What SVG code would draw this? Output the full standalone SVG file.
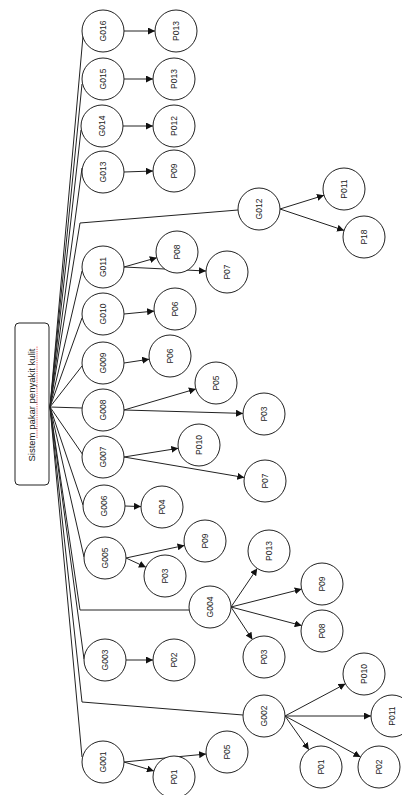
<svg xmlns="http://www.w3.org/2000/svg" width="402" height="795" viewBox="0 0 402 795">
<style>
.n circle{fill:#fff;stroke:#222;stroke-width:1}
.n text{font-family:"Liberation Sans",Arial,sans-serif;font-size:8.5px;fill:#222;text-anchor:middle;dominant-baseline:central}
#conn line,#conn polyline{stroke:#222;stroke-width:1;fill:none}
#conn .a{marker-end:url(#ah)}
.root text{font-family:"Liberation Sans",Arial,sans-serif;font-size:9.5px;fill:#222;text-anchor:middle;dominant-baseline:central}
</style>
<defs>
<marker id="ah" viewBox="0 0 10 10" refX="10" refY="5" markerWidth="7" markerHeight="7" markerUnits="userSpaceOnUse" orient="auto">
<path d="M0,0 L10,5 L0,10 z" fill="#111"/>
</marker>
</defs>
<rect width="402" height="795" fill="#fff"/>
<g id="conn">
<line x1="50" y1="407" x2="83" y2="36"/>
<line x1="50" y1="407" x2="82" y2="84"/>
<line x1="50" y1="407" x2="81" y2="130"/>
<line x1="50" y1="407" x2="82" y2="168"/>
<polyline points="50,407 80,223 238,210"/>
<line x1="50" y1="407" x2="82" y2="271"/>
<line x1="50" y1="407" x2="82" y2="318"/>
<line x1="50" y1="407" x2="82" y2="366"/>
<line x1="50" y1="407" x2="82" y2="408"/>
<line x1="50" y1="407" x2="83" y2="455"/>
<line x1="50" y1="407" x2="83" y2="505"/>
<line x1="50" y1="407" x2="84" y2="557"/>
<polyline points="50,407 80,610 189,610"/>
<line x1="50" y1="407" x2="84" y2="659"/>
<polyline points="50,407 82,702 243,715"/>
<line x1="50" y1="407" x2="82" y2="757"/>
<line class="a" x1="124" y1="31" x2="155" y2="31"/>
<line class="a" x1="124" y1="79" x2="153" y2="79"/>
<line class="a" x1="123" y1="126" x2="153" y2="126"/>
<line class="a" x1="124" y1="172" x2="153" y2="171"/>
<line class="a" x1="280" y1="209" x2="324" y2="195.3"/>
<line class="a" x1="280" y1="209" x2="344.1" y2="230.4"/>
<line class="a" x1="124" y1="267" x2="156.8" y2="257.7"/>
<line class="a" x1="124" y1="267" x2="206" y2="271"/>
<line class="a" x1="124" y1="314" x2="154.1" y2="311.1"/>
<line class="a" x1="124" y1="363" x2="149.2" y2="359.2"/>
<line class="a" x1="124" y1="410" x2="195.9" y2="388.9"/>
<line class="a" x1="124" y1="410" x2="243" y2="413.4"/>
<line class="a" x1="124" y1="457" x2="178.3" y2="448.3"/>
<line class="a" x1="124" y1="457" x2="244.3" y2="477.5"/>
<line class="a" x1="125" y1="506" x2="141" y2="506.6"/>
<line class="a" x1="126" y1="558" x2="184.5" y2="545.4"/>
<line class="a" x1="126" y1="558" x2="145.9" y2="567.2"/>
<line class="a" x1="231" y1="607" x2="257.2" y2="568.4"/>
<line class="a" x1="231" y1="607" x2="301.7" y2="589.1"/>
<line class="a" x1="231" y1="607" x2="301.7" y2="625.6"/>
<line class="a" x1="231" y1="607" x2="252.4" y2="639.5"/>
<line class="a" x1="126" y1="660" x2="153" y2="660"/>
<line class="a" x1="285" y1="716" x2="345.5" y2="683.8"/>
<line class="a" x1="285" y1="716" x2="371" y2="716"/>
<line class="a" x1="285" y1="716" x2="308.9" y2="749.8"/>
<line class="a" x1="285" y1="716" x2="360.5" y2="757"/>
<line class="a" x1="124" y1="762" x2="206.1" y2="754"/>
<line class="a" x1="124" y1="762" x2="153.9" y2="771"/>
</g>
<g id="root" class="root">
<rect x="15" y="323" width="34" height="162" rx="4" fill="#fff" stroke="#222" stroke-width="1"/>
<text x="31" y="405" transform="rotate(-90 31 405)">Sistem pakar penyakit kulit</text>
<line x1="37" y1="438" x2="37" y2="346" stroke="#e33" stroke-width="0.8" stroke-dasharray="1.2 1"/>
</g>
<g id="G016" class="n"><circle cx="103" cy="31" r="21"/><text x="103" y="31" transform="rotate(-90 103 31)">G016</text></g>
<g id="P013a" class="n"><circle cx="176" cy="31" r="21"/><text x="176" y="31" transform="rotate(-90 176 31)">P013</text></g>
<g id="G015" class="n"><circle cx="103" cy="79" r="21"/><text x="103" y="79" transform="rotate(-90 103 79)">G015</text></g>
<g id="P013b" class="n"><circle cx="174" cy="79" r="21"/><text x="174" y="79" transform="rotate(-90 174 79)">P013</text></g>
<g id="G014" class="n"><circle cx="102" cy="126" r="21"/><text x="102" y="126" transform="rotate(-90 102 126)">G014</text></g>
<g id="P012" class="n"><circle cx="174" cy="126" r="21"/><text x="174" y="126" transform="rotate(-90 174 126)">P012</text></g>
<g id="G013" class="n"><circle cx="103" cy="172" r="21"/><text x="103" y="172" transform="rotate(-90 103 172)">G013</text></g>
<g id="P09a" class="n"><circle cx="174" cy="171" r="21"/><text x="174" y="171" transform="rotate(-90 174 171)">P09</text></g>
<g id="G012" class="n"><circle cx="259" cy="209" r="21"/><text x="259" y="209" transform="rotate(-90 259 209)">G012</text></g>
<g id="P011a" class="n"><circle cx="344" cy="189" r="21"/><text x="344" y="189" transform="rotate(-90 344 189)">P011</text></g>
<g id="P18" class="n"><circle cx="364" cy="237" r="21"/><text x="364" y="237" transform="rotate(-90 364 237)">P18</text></g>
<g id="G011" class="n"><circle cx="103" cy="267" r="21"/><text x="103" y="267" transform="rotate(-90 103 267)">G011</text></g>
<g id="P08a" class="n"><circle cx="177" cy="252" r="21"/><text x="177" y="252" transform="rotate(-90 177 252)">P08</text></g>
<g id="P07a" class="n"><circle cx="227" cy="272" r="21"/><text x="227" y="272" transform="rotate(-90 227 272)">P07</text></g>
<g id="G010" class="n"><circle cx="103" cy="314" r="21"/><text x="103" y="314" transform="rotate(-90 103 314)">G010</text></g>
<g id="P06a" class="n"><circle cx="175" cy="309" r="21"/><text x="175" y="309" transform="rotate(-90 175 309)">P06</text></g>
<g id="G009" class="n"><circle cx="103" cy="363" r="21"/><text x="103" y="363" transform="rotate(-90 103 363)">G009</text></g>
<g id="P06b" class="n"><circle cx="170" cy="356" r="21"/><text x="170" y="356" transform="rotate(-90 170 356)">P06</text></g>
<g id="G008" class="n"><circle cx="103" cy="410" r="21"/><text x="103" y="410" transform="rotate(-90 103 410)">G008</text></g>
<g id="P05a" class="n"><circle cx="216" cy="383" r="21"/><text x="216" y="383" transform="rotate(-90 216 383)">P05</text></g>
<g id="P03a" class="n"><circle cx="264" cy="414" r="21"/><text x="264" y="414" transform="rotate(-90 264 414)">P03</text></g>
<g id="G007" class="n"><circle cx="103" cy="457" r="21"/><text x="103" y="457" transform="rotate(-90 103 457)">G007</text></g>
<g id="P010a" class="n"><circle cx="199" cy="445" r="21"/><text x="199" y="445" transform="rotate(-90 199 445)">P010</text></g>
<g id="P07b" class="n"><circle cx="265" cy="481" r="21"/><text x="265" y="481" transform="rotate(-90 265 481)">P07</text></g>
<g id="G006" class="n"><circle cx="104" cy="506" r="21"/><text x="104" y="506" transform="rotate(-90 104 506)">G006</text></g>
<g id="P04" class="n"><circle cx="162" cy="507" r="21"/><text x="162" y="507" transform="rotate(-90 162 507)">P04</text></g>
<g id="G005" class="n"><circle cx="105" cy="558" r="21"/><text x="105" y="558" transform="rotate(-90 105 558)">G005</text></g>
<g id="P09b" class="n"><circle cx="205" cy="541" r="21"/><text x="205" y="541" transform="rotate(-90 205 541)">P09</text></g>
<g id="P03b" class="n"><circle cx="165" cy="576" r="21"/><text x="165" y="576" transform="rotate(-90 165 576)">P03</text></g>
<g id="G004" class="n"><circle cx="210" cy="607" r="21"/><text x="210" y="607" transform="rotate(-90 210 607)">G004</text></g>
<g id="P013c" class="n"><circle cx="269" cy="551" r="21"/><text x="269" y="551" transform="rotate(-90 269 551)">P013</text></g>
<g id="P09c" class="n"><circle cx="322" cy="584" r="21"/><text x="322" y="584" transform="rotate(-90 322 584)">P09</text></g>
<g id="P08b" class="n"><circle cx="322" cy="631" r="21"/><text x="322" y="631" transform="rotate(-90 322 631)">P08</text></g>
<g id="P03c" class="n"><circle cx="264" cy="657" r="21"/><text x="264" y="657" transform="rotate(-90 264 657)">P03</text></g>
<g id="G003" class="n"><circle cx="105" cy="660" r="21"/><text x="105" y="660" transform="rotate(-90 105 660)">G003</text></g>
<g id="P02a" class="n"><circle cx="174" cy="660" r="21"/><text x="174" y="660" transform="rotate(-90 174 660)">P02</text></g>
<g id="G002" class="n"><circle cx="264" cy="716" r="21"/><text x="264" y="716" transform="rotate(-90 264 716)">G002</text></g>
<g id="P010b" class="n"><circle cx="364" cy="674" r="21"/><text x="364" y="674" transform="rotate(-90 364 674)">P010</text></g>
<g id="P011b" class="n"><circle cx="392" cy="716" r="21"/><text x="392" y="716" transform="rotate(-90 392 716)">P011</text></g>
<g id="P01a" class="n"><circle cx="321" cy="767" r="21"/><text x="321" y="767" transform="rotate(-90 321 767)">P01</text></g>
<g id="P02b" class="n"><circle cx="379" cy="767" r="21"/><text x="379" y="767" transform="rotate(-90 379 767)">P02</text></g>
<g id="G001" class="n"><circle cx="103" cy="762" r="21"/><text x="103" y="762" transform="rotate(-90 103 762)">G001</text></g>
<g id="P05b" class="n"><circle cx="227" cy="752" r="21"/><text x="227" y="752" transform="rotate(-90 227 752)">P05</text></g>
<g id="P01b" class="n"><circle cx="174" cy="777" r="21"/><text x="174" y="777" transform="rotate(-90 174 777)">P01</text></g>
</svg>
